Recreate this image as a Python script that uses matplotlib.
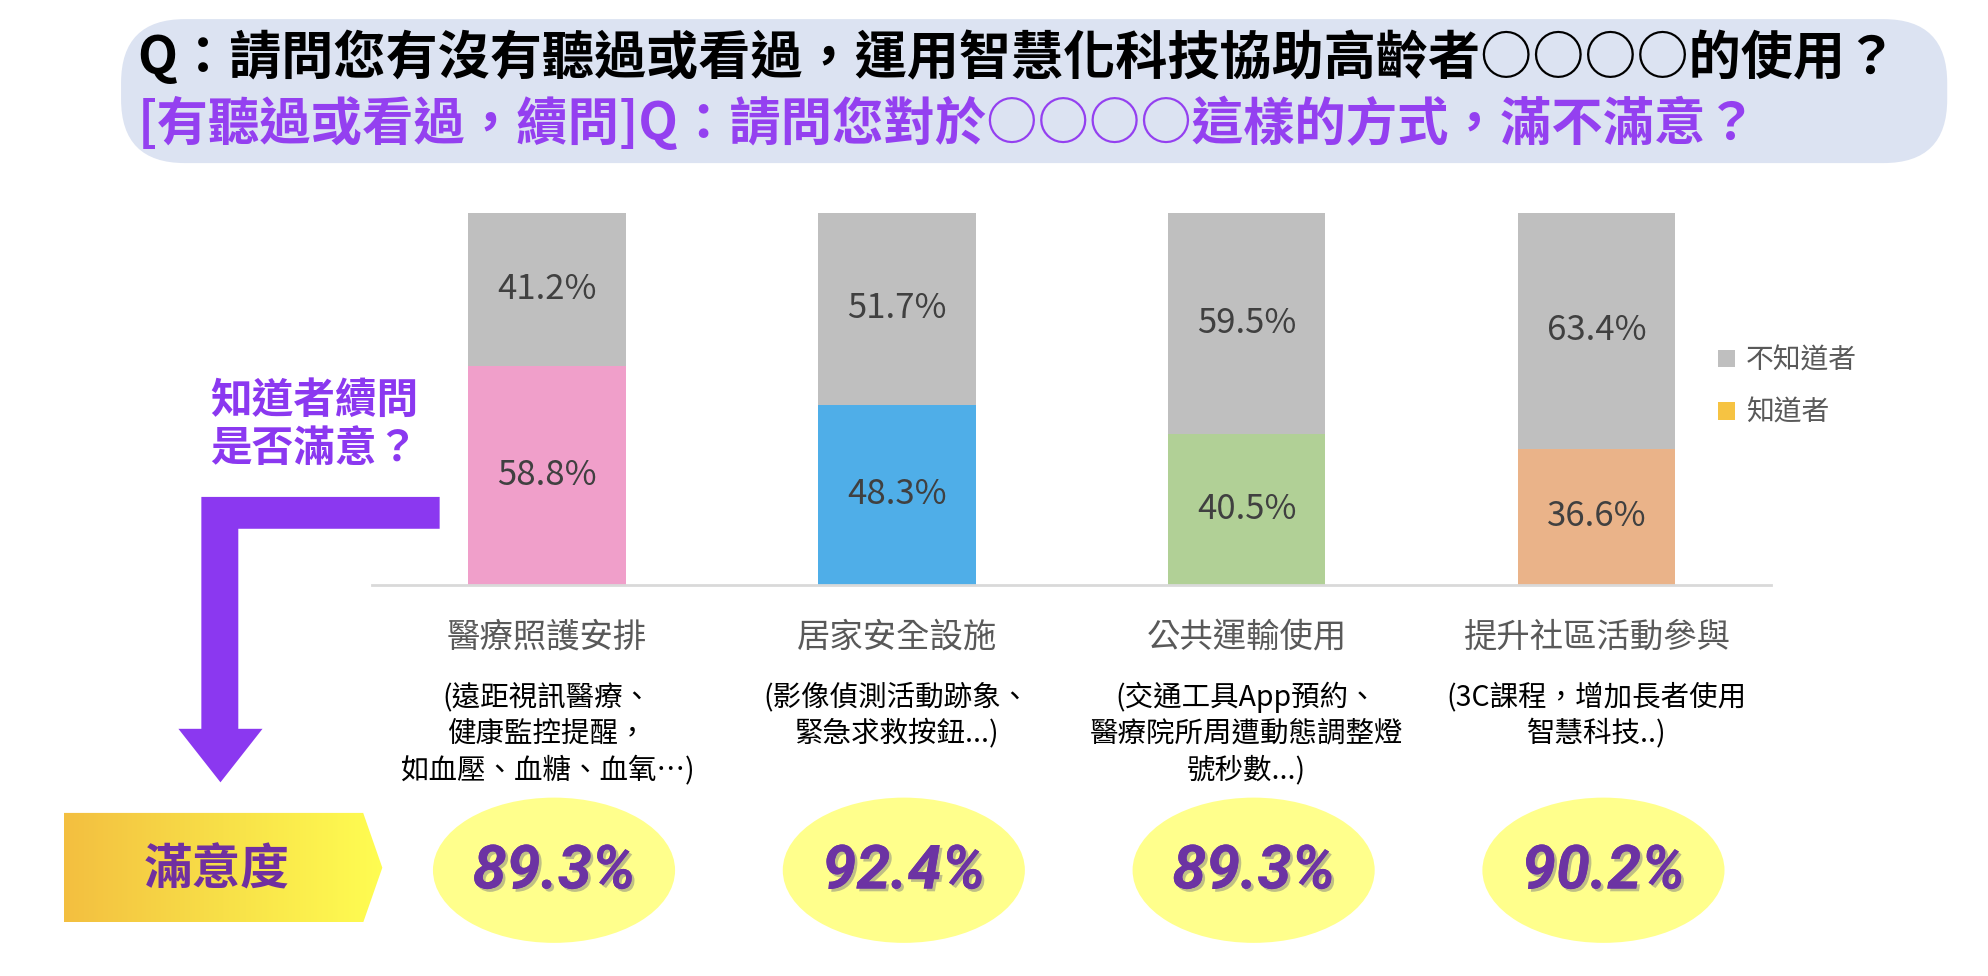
import matplotlib
matplotlib.use('Agg')
import matplotlib.pyplot as plt
import matplotlib.patheffects as pe
from matplotlib.patches import FancyBboxPatch, Polygon, Ellipse, Patch
from matplotlib.colors import LinearSegmentedColormap
from matplotlib import transforms
import numpy as np

plt.rcParams['font.family'] = ['Noto Sans CJK TC', 'DejaVu Sans']

# data
categories = ['醫療照護安排', '居家安全設施', '公共運輸使用', '提升社區活動參與']
details = [['(遠距視訊醫療、', '健康監控提醒，', '如血壓、血糖、血氧…)'],
           ['(影像偵測活動跡象、', '緊急求救按鈕...)'],
           ['(交通工具App預約、', '醫療院所周遭動態調整燈', '號秒數...)'],
           ['(3C課程，增加長者使用', '智慧科技..)']]
aware = [58.8, 48.3, 40.5, 36.6]
unaware = [41.2, 51.7, 59.5, 63.4]
satisfaction = [89.3, 92.4, 89.3, 90.2]
aware_colors = ['#f09fca', '#4faee8', '#b1d096', '#eab389']
gray = '#bfbfbf'
purple = '#8b38f0'

W, H = 1560, 766
fig = plt.figure(figsize=(19.88, 9.76), dpi=100)
ov = fig.add_axes([0, 0, 1, 1])
ov.axis('off')


def fx(x):
    return x / W


def fy(y):
    return 1 - y / H


# title box
ov.add_patch(FancyBboxPatch((95, 15), 1433, 113, boxstyle='round,pad=0,rounding_size=50',
                            facecolor='#dce3f2', edgecolor='none'))
ov.text(108, 45, 'Q：請問您有沒有聽過或看過，運用智慧化科技協助高齡者○○○○的使用？',
        fontsize=37.5, fontweight='bold', color='black', va='center', ha='left')
ov.text(108, 97, '[有聽過或看過，續問]Q：請問您對於○○○○這樣的方式，滿不滿意？',
        fontsize=37, fontweight='bold', color='#9440f0', va='center', ha='left')

# arrow
arrow = [(345, 390), (158, 390), (158, 572), (140, 572), (173, 614),
         (206, 572), (187, 572), (187, 415), (345, 415)]
ov.add_patch(Polygon(arrow, closed=True, facecolor=purple, edgecolor='none'))
ov.text(165, 315, '知道者續問', fontsize=30, fontweight='bold', color=purple, va='center', ha='left')
ov.text(165, 352, '是否滿意？', fontsize=30, fontweight='bold', color=purple, va='center', ha='left')

# gradient label box
grad = np.linspace(0, 1, 256).reshape(1, -1)
cmap = LinearSegmentedColormap.from_list('g', ['#f3bf40', '#f8e048', '#fffd52'])
im = ov.imshow(grad, extent=[50, 300, 724, 638], cmap=cmap, aspect='auto', zorder=1)
shape = Polygon([(50, 638), (285, 638), (300, 681), (285, 724), (50, 724)], closed=True,
                facecolor='none', edgecolor='none')
ov.add_patch(shape)
im.set_clip_path(shape)
ov.text(170, 683, '滿意度', fontsize=35, fontweight='bold', color='#7030a0', va='center', ha='center', zorder=3)

ov.set_xlim(0, W)
ov.set_ylim(H, 0)

# bar chart
ax = fig.add_axes([fx(292), fy(459), fx(1390) - fx(292), fy(167) - fy(459)])
ax.patch.set_alpha(0)
x = np.arange(len(categories))
b1 = ax.bar(x, aware, 0.45, color=aware_colors)
b2 = ax.bar(x, unaware, 0.45, bottom=aware, color=gray)
ax.bar_label(b1, labels=[f'{v:.1f}%' for v in aware], label_type='center', fontsize=25, color='#404040')
ax.bar_label(b2, labels=[f'{v:.1f}%' for v in unaware], label_type='center', fontsize=25, color='#404040')
ax.set_xlim(-0.5, 3.5)
ax.set_ylim(0, 100)
for s in ['top', 'left', 'right']:
    ax.spines[s].set_visible(False)
ax.spines['bottom'].set_color('#d9d9d9')
ax.spines['bottom'].set_linewidth(2)
ax.set_xticks([])
ax.set_yticks([])

handles = [Patch(facecolor=gray, label='不知道者'), Patch(facecolor='#f6c342', label='知道者')]
ax.legend(handles=handles, loc='upper left', bbox_to_anchor=(1348, 271), bbox_transform=ov.transData,
          frameon=False, fontsize=20, handlelength=0.6, handleheight=0.6, handletextpad=0.4,
          labelspacing=0.8, borderpad=0, borderaxespad=0, labelcolor='#595959')

# category labels, details, satisfaction
bt = transforms.blended_transform_factory(ax.transData, ov.transData)
for i, cat in enumerate(categories):
    ov.text(i, 500, cat, transform=bt, fontsize=24, color='#595959', ha='center', va='center')
    for j, line in enumerate(details[i]):
        ov.text(i, 547 + j * 28.7, line, transform=bt, fontsize=20.5, color='black', ha='center', va='center')
    ov.add_patch(Ellipse((i + 0.02, 683), 190 / 274.5, 114, transform=bt, facecolor='#ffff8c', edgecolor='none'))
    ov.text(i + 0.02, 684, f'{satisfaction[i]:.1f}%', transform=bt, fontsize=44, fontweight='bold',
            fontstyle='italic', family=['Roboto', 'DejaVu Sans'], color='#6c33a3',
            ha='center', va='center', zorder=3,
            path_effects=[pe.withSimplePatchShadow(offset=(2, -2), shadow_rgbFace='#808080', alpha=0.5),
                          pe.Normal()])

fig.savefig('out.png', dpi=100)
